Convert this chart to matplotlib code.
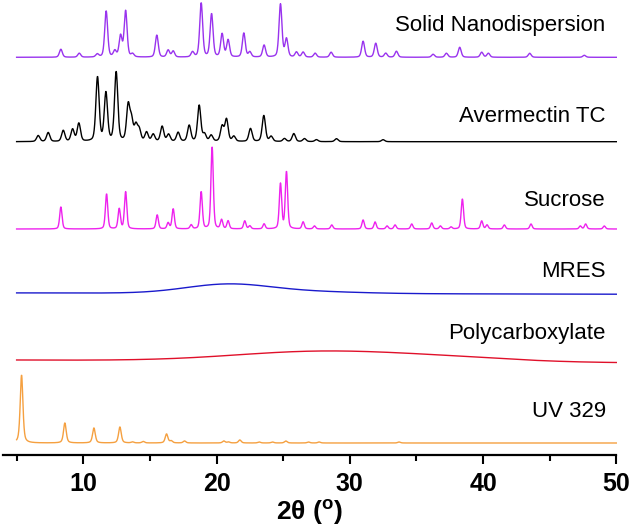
"""
Stacked XRD patterns: solid nanodispersion and its components.
"""
import numpy as np
import matplotlib.pyplot as plt

plt.rcParams['font.family'] = ['Liberation Sans', 'DejaVu Sans']
plt.rcParams['mathtext.fontset'] = 'custom'
plt.rcParams['mathtext.rm'] = 'Liberation Sans'
plt.rcParams['mathtext.bf'] = 'Liberation Sans:bold'

# peak positions (2theta, deg) and heights (counts, arbitrary)
nano_pos = [8.32, 9.7, 11.05, 11.72, 12.37, 12.8, 13.18, 13.7, 15.52, 16.37, 16.75,
            18.2, 18.85, 19.63, 20.42, 20.87, 22.05, 22.5, 23.57, 24.8, 25.25, 26.0,
            26.5, 27.4, 28.6, 31.0, 31.95, 32.7, 33.5, 36.25, 37.25, 38.25, 39.9,
            40.4, 43.5, 47.6]
nano_h = [8, 4, 3, 46, 6, 21, 46, 3, 22, 7, 6,
          5, 54, 43, 23, 17, 24, 5, 12, 53, 18, 5,
          5, 4, 5, 16, 14, 4, 6, 3, 4, 10, 5,
          4, 4, 2]

aver_pos = [6.62, 7.37, 8.5, 9.2, 9.67, 11.07, 11.7, 12.47, 13.37, 13.62, 13.95,
            14.2, 14.75, 15.25, 15.92, 16.4, 17.12, 17.95, 18.7, 19.1, 19.6, 20.42,
            20.75, 21.3, 22.55, 23.55, 24.1, 25.1, 25.8, 26.6, 27.5, 29.0, 32.5]
aver_h = [6, 9, 11, 12, 18, 64, 48, 69, 35, 20, 15,
          11, 9, 7, 15, 7, 9, 16, 36, 7, 6, 15,
          22, 5, 13, 26, 5, 3, 8, 3, 2, 3, 2]

sucr_pos = [8.32, 11.75, 12.7, 13.18, 15.55, 16.37, 16.75, 18.1, 18.85, 19.67, 20.38,
            20.87, 22.12, 22.5, 23.57, 24.8, 25.25, 26.5, 27.35, 28.65, 31.0, 31.9,
            32.8, 33.4, 34.65, 36.15, 36.8, 37.6, 38.45, 39.9, 40.3, 41.6, 43.6,
            47.3, 47.7, 49.1]
sucr_h = [22, 35, 20, 37, 14, 6, 20, 4, 37, 82, 9,
          8, 8, 3, 5, 45, 57, 7, 3, 4, 9, 7,
          3, 4, 5, 6, 3, 2, 30, 8, 4, 4, 5,
          3, 5, 3]

# amorphous humps
mres_pos = [20.84, 27.0]
mres_h = [9.0, 1.8]
mres_w = [7.5, 9.0]
mres_drift = -1.3

poly_pos = [28.0, 38.0]
poly_h = [10.0, 3.0]
poly_w = [15.3, 11.8]
poly_drift = -2.7

uv_pos = [5.37, 8.62, 10.8, 12.75, 13.7, 14.5, 16.25, 16.6, 17.6, 20.55, 20.9,
          21.75, 23.2, 24.2, 25.2, 26.9, 27.7, 33.7]
uv_h = [68, 20, 15, 16, 1, 1.5, 9, 2, 2, 2, 1,
        3, 1, 1, 2, 1, 1, 1]

names = ['Solid Nanodispersion', 'Avermectin TC', 'Sucrose', 'MRES',
         'Polycarboxylate', 'UV 329']


def pattern(x, pos, h, fwhm, eta):
    y = np.zeros_like(x)
    fwhm = np.broadcast_to(fwhm, (len(pos),))
    for p, a, w in zip(pos, h, fwhm):
        d = (x - p) / (w / 2)
        y += a * (eta / (1 + d ** 2) + (1 - eta) * np.exp(-np.log(2) * d ** 2))
    return y


tt = np.arange(5.0, 50.001, 0.02)
curves = [
    pattern(tt, nano_pos, nano_h, 0.26, 0.35),
    pattern(tt, aver_pos, aver_h, 0.29, 0.35),
    pattern(tt, sucr_pos, sucr_h, 0.21, 0.35),
    pattern(tt, mres_pos, mres_h, mres_w, 0.0) + mres_drift * (tt - 5) / 45,
    pattern(tt, poly_pos, poly_h, poly_w, 0.0) + poly_drift * (tt - 5) / 45,
    pattern(tt, uv_pos, uv_h, 0.24, 0.5),
]

offsets = [397.2, 312.8, 225.5, 161.6, 94.5, 11.5]
label_y = [429.5, 337.5, 253.5, 182.8, 121.2, 42.8]
colors = ['#9933ee', 'black', '#ee22ee', '#1a1acc', '#e0102a', '#f5a040']

fig = plt.figure(figsize=(6.32, 5.32), dpi=100)
ax = fig.add_axes([3.3 / 632, 77.5 / 532, 613 / 632, 454.5 / 532])

for y, off, c, name, ly in zip(curves, offsets, colors, names, label_y):
    ax.plot(tt, y + off, color=c, lw=1.0, clip_on=False)
    ax.text(49.2, ly, name, ha='right', va='center', fontsize=16)

ax.set_xlim(4.0, 50)
ax.set_ylim(0, 454.5)
ax.set_xticks([10, 20, 30, 40, 50])
ax.set_xticks([5, 15, 25, 35, 45], minor=True)
for s in ['left', 'right', 'top']:
    ax.spines[s].set_visible(False)
ax.spines['bottom'].set_linewidth(1.6)
ax.set_yticks([])
ax.tick_params(axis='x', which='major', direction='out', length=6.5, width=1.5,
               pad=6, labelsize=18)
ax.tick_params(axis='x', which='minor', direction='out', length=4.3, width=1.5)
for lab in ax.get_xticklabels():
    lab.set_fontweight('bold')
ax.set_xlabel(r'2θ ($^{\mathbf{o}}$)', fontsize=19, fontweight='bold', labelpad=1)

fig.savefig('out.png', dpi=100)
